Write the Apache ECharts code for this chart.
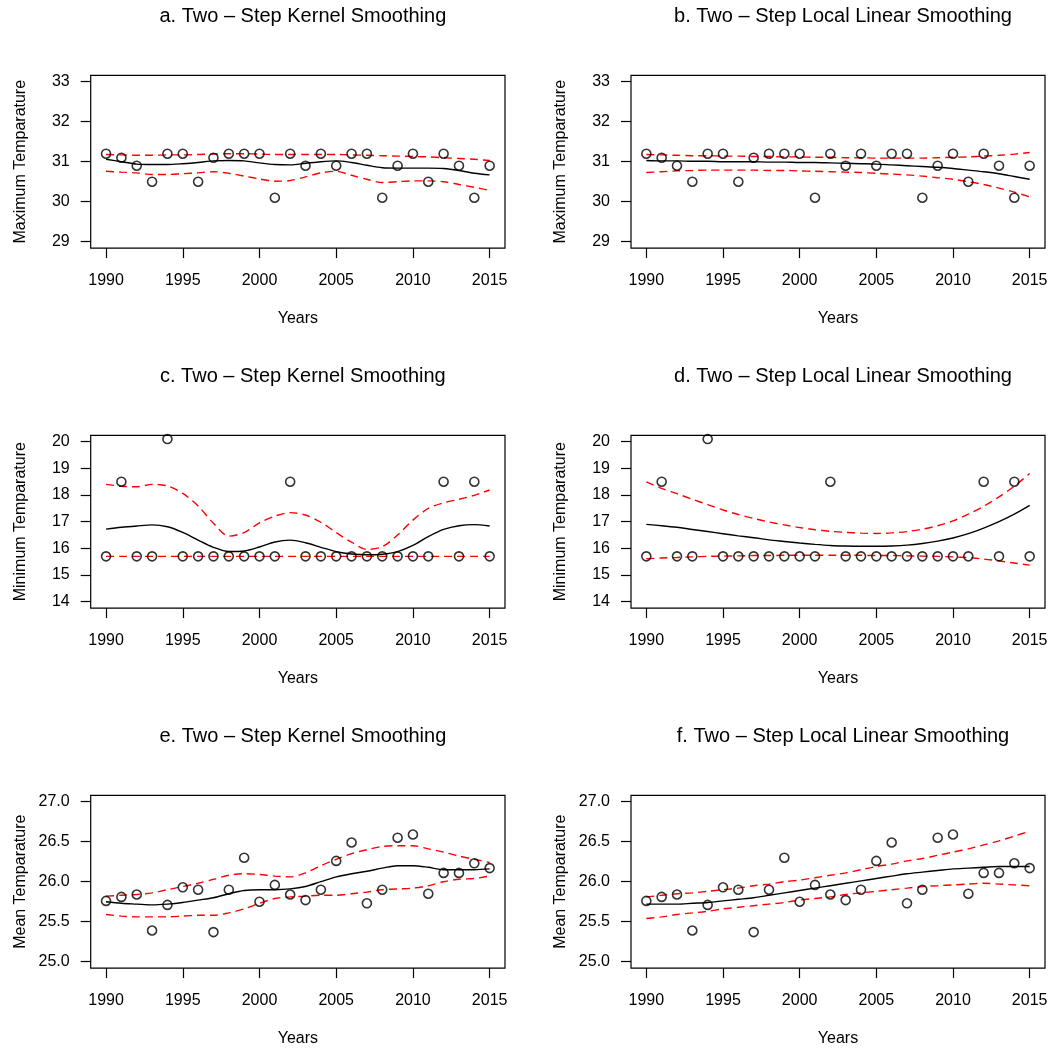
<!DOCTYPE html>
<html>
<head>
<meta charset="utf-8">
<script src="https://cdn.jsdelivr.net/npm/echarts@6/dist/echarts.min.js"></script>
<style>html,body{margin:0;padding:0;background:#fff}#c{width:1053px;height:1051px}</style>
</head>
<body>
<div id="c"></div>
<script>
// ---- data ----
const years = [1990,1991,1992,1993,1994,1995,1996,1997,1998,1999,2000,2001,2002,2003,2004,2005,2006,2007,2008,2009,2010,2011,2012,2013,2014,2015];

const maxTemp = [31.2,31.1,30.9,30.5,31.2,31.2,30.5,31.1,31.2,31.2,31.2,30.1,31.2,30.9,31.2,30.9,31.2,31.2,30.1,30.9,31.2,30.5,31.2,30.9,30.1,30.9];
const minTemp = [15.7,18.5,15.7,15.7,20.1,15.7,15.7,15.7,15.7,15.7,15.7,15.7,18.5,15.7,15.7,15.7,15.7,15.7,15.7,15.7,15.7,15.7,18.5,15.7,18.5,15.7];
const meanTemp = [25.76,25.81,25.84,25.39,25.71,25.93,25.90,25.37,25.90,26.30,25.75,25.96,25.84,25.77,25.90,26.26,26.49,25.73,25.90,26.55,26.59,25.85,26.11,26.11,26.23,26.17];

// a. kernel, maximum
const kernMaxFit = [31.06,31.00,30.94,30.93,30.93,30.95,30.98,31.02,31.03,31.02,30.97,30.93,30.92,30.96,31.00,31.02,30.98,30.91,30.85,30.84,30.84,30.84,30.83,30.78,30.71,30.67];
const kernMaxUp  = [31.18,31.17,31.16,31.16,31.17,31.17,31.18,31.19,31.20,31.20,31.19,31.18,31.18,31.18,31.18,31.18,31.17,31.16,31.15,31.14,31.13,31.12,31.10,31.08,31.06,31.03];
const kernMaxLo  = [30.76,30.74,30.72,30.68,30.68,30.70,30.72,30.75,30.71,30.64,30.57,30.51,30.53,30.62,30.72,30.76,30.66,30.56,30.48,30.50,30.52,30.52,30.50,30.43,30.36,30.28];
// b. local linear, maximum
const llMaxFit = [31.03,31.02,31.02,31.01,31.01,31.00,31.00,31.00,30.99,30.99,30.98,30.98,30.97,30.96,30.95,30.94,30.92,30.90,30.88,30.86,30.83,30.79,30.75,30.70,30.63,30.56];
const llMaxUp  = [31.18,31.17,31.16,31.15,31.15,31.14,31.14,31.13,31.13,31.12,31.12,31.11,31.11,31.10,31.10,31.09,31.09,31.09,31.09,31.10,31.11,31.12,31.14,31.16,31.19,31.23];
const llMaxLo  = [30.73,30.75,30.77,30.78,30.79,30.79,30.79,30.79,30.78,30.78,30.77,30.76,30.75,30.74,30.73,30.71,30.69,30.67,30.64,30.60,30.56,30.50,30.43,30.34,30.24,30.12];
// c. kernel, minimum
const kernMinFit = [16.72,16.79,16.84,16.88,16.81,16.60,16.31,16.04,15.88,15.90,16.05,16.24,16.31,16.21,16.04,15.88,15.79,15.76,15.78,15.88,16.11,16.44,16.71,16.85,16.89,16.84];
const kernMinUp  = [18.40,18.33,18.31,18.40,18.34,18.06,17.59,16.94,16.46,16.59,16.96,17.21,17.34,17.25,16.98,16.59,16.23,15.96,16.06,16.50,17.06,17.50,17.71,17.84,17.99,18.19];
const kernMinLo  = [15.70,15.70,15.70,15.70,15.70,15.70,15.70,15.70,15.70,15.70,15.70,15.70,15.70,15.70,15.70,15.70,15.70,15.70,15.70,15.70,15.70,15.70,15.70,15.70,15.70,15.70];
// d. local linear, minimum
const llMinFit = [16.90,16.85,16.79,16.71,16.63,16.55,16.47,16.40,16.32,16.26,16.20,16.15,16.11,16.09,16.08,16.08,16.09,16.12,16.18,16.27,16.39,16.55,16.76,17.00,17.28,17.61];
const llMinUp  = [18.49,18.25,18.05,17.84,17.64,17.44,17.27,17.12,16.99,16.88,16.78,16.70,16.64,16.60,16.57,16.56,16.58,16.63,16.72,16.85,17.03,17.28,17.58,17.93,18.33,18.81];
const llMinLo  = [15.61,15.64,15.66,15.68,15.70,15.71,15.72,15.73,15.73,15.74,15.74,15.74,15.74,15.74,15.74,15.73,15.73,15.72,15.71,15.70,15.68,15.65,15.60,15.53,15.45,15.37];
// e. kernel, mean
const kernMeanFit = [25.75,25.73,25.72,25.71,25.72,25.74,25.77,25.80,25.85,25.89,25.90,25.90,25.91,25.94,26.00,26.06,26.10,26.13,26.17,26.20,26.20,26.18,26.15,26.15,26.15,26.16];
const kernMeanUp  = [25.82,25.83,25.84,25.86,25.90,25.94,25.98,26.03,26.08,26.10,26.09,26.07,26.06,26.11,26.20,26.28,26.35,26.40,26.44,26.45,26.45,26.41,26.37,26.32,26.28,26.24];
const kernMeanLo  = [25.59,25.57,25.56,25.56,25.56,25.57,25.58,25.58,25.61,25.66,25.73,25.79,25.81,25.82,25.83,25.83,25.85,25.87,25.90,25.91,25.92,25.95,26.00,26.03,26.04,26.07];
// f. local linear, mean
const llMeanFit = [25.72,25.72,25.72,25.73,25.74,25.76,25.78,25.80,25.83,25.86,25.89,25.92,25.95,25.98,26.01,26.04,26.07,26.10,26.12,26.14,26.16,26.17,26.18,26.19,26.19,26.19];
const llMeanUp  = [25.81,25.83,25.85,25.86,25.88,25.90,25.92,25.95,25.97,26.00,26.02,26.05,26.08,26.11,26.15,26.19,26.22,26.26,26.29,26.33,26.37,26.41,26.46,26.51,26.57,26.63];
const llMeanLo  = [25.54,25.56,25.59,25.61,25.63,25.66,25.68,25.70,25.72,25.74,25.77,25.79,25.81,25.84,25.86,25.88,25.90,25.92,25.94,25.95,25.96,25.97,25.98,25.97,25.96,25.95];

const xTicks = [1990,1995,2000,2005,2010,2015];
const yTicksMax = [29,30,31,32,33];
const yTicksMin = [14,15,16,17,18,19,20];
const yTicksMean = [25.0,25.5,26.0,26.5,27.0];

const titles = ['a. Two \u2013 Step Kernel Smoothing','b. Two \u2013 Step Local Linear Smoothing',
                'c. Two \u2013 Step Kernel Smoothing','d. Two \u2013 Step Local Linear Smoothing',
                'e. Two \u2013 Step Kernel Smoothing','f. Two \u2013 Step Local Linear Smoothing'];
const yNames = ['Maximum Temparature','Minimum Temparature','Mean Temparature'];
const xName = 'Years';

// ---- build ----
const FONT = 'Liberation Sans, Arial, Helvetica, sans-serif';
const panels = [
  {obs:maxTemp, fit:kernMaxFit, up:kernMaxUp, lo:kernMaxLo, ticks:yTicksMax, dec:0},
  {obs:maxTemp, fit:llMaxFit, up:llMaxUp, lo:llMaxLo, ticks:yTicksMax, dec:0},
  {obs:minTemp, fit:kernMinFit, up:kernMinUp, lo:kernMinLo, ticks:yTicksMin, dec:0},
  {obs:minTemp, fit:llMinFit, up:llMinUp, lo:llMinLo, ticks:yTicksMin, dec:0},
  {obs:meanTemp, fit:kernMeanFit, up:kernMeanUp, lo:kernMeanLo, ticks:yTicksMean, dec:1},
  {obs:meanTemp, fit:llMeanFit, up:llMeanUp, lo:llMeanLo, ticks:yTicksMean, dec:1}
];
const colLeft = [90.7, 631];
const colWidth = [414.3, 414];
const rowTop = [75.3, 435.3, 795.3];
const H = 172.8;

const grid=[], xAxis=[], yAxis=[], series=[], title=[];
const pair = arr => years.map((y,i)=>[y,arr[i]]);
panels.forEach((p,k)=>{
  const r = Math.floor(k/2), c = k%2;
  grid.push({left:colLeft[c], top:rowTop[r], width:colWidth[c], height:H, show:true,
             borderColor:'#000', borderWidth:1.2, backgroundColor:'transparent', containLabel:false});
  const tmin = years[0], tmax = years[years.length-1];
  const xpad = (tmax-tmin)*0.04;
  xAxis.push({type:'value', gridIndex:k, min:tmin-xpad, max:tmax+xpad,
    name:xName, nameLocation:'middle', nameGap:62,
    nameTextStyle:{fontFamily:FONT, fontSize:16, color:'#000'},
    axisLine:{show:false}, splitLine:{show:false},
    axisTick:{show:true, inside:false, length:10, customValues:xTicks, lineStyle:{color:'#000', width:1.2}},
    axisLabel:{customValues:xTicks, margin:24, fontFamily:FONT, fontSize:16, color:'#000', formatter:v=>String(v)}
  });
  const ymin = p.ticks[0], ymax = p.ticks[p.ticks.length-1];
  const ypad = (ymax-ymin)*0.04;
  yAxis.push({type:'value', gridIndex:k, min:ymin-ypad, max:ymax+ypad,
    name:yNames[r], nameLocation:'middle', nameGap:62,
    nameTextStyle:{fontFamily:FONT, fontSize:16, color:'#000'},
    axisLine:{show:false}, splitLine:{show:false},
    axisTick:{show:true, inside:false, length:10, customValues:p.ticks, lineStyle:{color:'#000', width:1.2}},
    axisLabel:{customValues:p.ticks, margin:21, fontFamily:FONT, fontSize:16, color:'#000', formatter:v=>v.toFixed(p.dec)}
  });
  title.push({text:titles[k], left:colLeft[c]+colWidth[c]/2, textAlign:'center', top:rowTop[r]-74,
    textStyle:{fontFamily:FONT, fontSize:20, fontWeight:'normal', color:'#000'}});
  const lineBase = {type:'line', xAxisIndex:k, yAxisIndex:k, showSymbol:false, symbol:'none', smooth:0.3, silent:true, animation:false};
  series.push(Object.assign({}, lineBase, {data:pair(p.up), lineStyle:{color:'#ff0000', width:1.4, type:[8,5]}, z:3}));
  series.push(Object.assign({}, lineBase, {data:pair(p.lo), lineStyle:{color:'#ff0000', width:1.4, type:[8,5]}, z:3}));
  series.push(Object.assign({}, lineBase, {data:pair(p.fit), lineStyle:{color:'#000', width:1.4, type:'solid'}, z:4}));
  series.push({type:'scatter', xAxisIndex:k, yAxisIndex:k, data:pair(p.obs), symbol:'circle', symbolSize:9,
    itemStyle:{color:'rgba(255,255,255,0)', borderColor:'#000', borderWidth:1.6}, z:5, silent:true, animation:false});
});

const chart = echarts.init(document.getElementById('c'), null, {renderer:'canvas'});
chart.setOption({backgroundColor:'#fff', animation:false, title, grid, xAxis, yAxis, series});
</script>
</body>
</html>
